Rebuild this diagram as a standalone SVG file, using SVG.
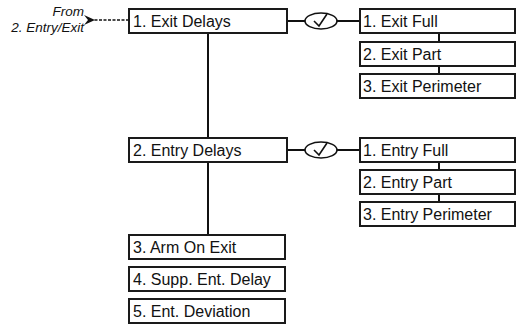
<svg xmlns="http://www.w3.org/2000/svg" width="517" height="327" viewBox="0 0 517 327">
<style>
.box{fill:#fff;stroke:#1a1a1a;stroke-width:2}
.t{font-family:"Liberation Sans",Arial,sans-serif;font-size:16px;fill:#111}
.i{font-family:"Liberation Sans",Arial,sans-serif;font-size:13.5px;font-style:italic;fill:#111;text-anchor:end}
.ln{stroke:#111;stroke-width:2;fill:none}
.ck{fill:#fff;stroke:#111;stroke-width:1.6}
</style>
<defs>
<marker id="ah" markerWidth="11" markerHeight="10" refX="1" refY="5" orient="auto" markerUnits="userSpaceOnUse">
<path d="M0,5 L11,0 L7,5 L11,10 Z" fill="#111"/>
</marker>
</defs>
<g id="connectors">
<line class="ln" x1="208" y1="33" x2="208" y2="235"/>
<line class="ln" x1="287" y1="21" x2="360" y2="21"/>
<line class="ln" x1="287" y1="150" x2="360" y2="150"/>
<line class="ln" x1="439" y1="33" x2="439" y2="74"/>
<line class="ln" x1="439" y1="162" x2="439" y2="202"/>
<line x1="129" y1="20" x2="94" y2="20" stroke="#111" stroke-width="1.5" stroke-dasharray="3,1.5" marker-end="url(#ah)"/>
<ellipse class="ck" cx="321" cy="21" rx="16" ry="8"/>
<path d="M314,21 L319,26 L327,14" fill="none" stroke="#111" stroke-width="1.6"/>
<ellipse class="ck" cx="321" cy="150" rx="16" ry="8"/>
<path d="M314,150 L319,155 L327,143" fill="none" stroke="#111" stroke-width="1.6"/>
</g>
<g id="from">
<text class="i" x="84" y="16">From</text>
<text class="i" x="84" y="32">2. Entry/Exit</text>
</g>
<g id="exit-delays"><rect class="box" x="129" y="9" width="158" height="24"/><text class="t" x="133" y="26.5">1. Exit Delays</text></g>
<g id="exit-full"><rect class="box" x="360" y="9" width="155" height="24"/><text class="t" x="363" y="26.5">1. Exit Full</text></g>
<g id="exit-part"><rect class="box" x="360" y="42" width="155" height="24"/><text class="t" x="363" y="59.5">2. Exit Part</text></g>
<g id="exit-perimeter"><rect class="box" x="360" y="74" width="155" height="24"/><text class="t" x="363" y="91.5">3. Exit Perimeter</text></g>
<g id="entry-delays"><rect class="box" x="129" y="138" width="158" height="24"/><text class="t" x="133" y="155.5">2. Entry Delays</text></g>
<g id="entry-full"><rect class="box" x="360" y="138" width="155" height="24"/><text class="t" x="363" y="155.5">1. Entry Full</text></g>
<g id="entry-part"><rect class="box" x="360" y="170" width="155" height="24"/><text class="t" x="363" y="187.5">2. Entry Part</text></g>
<g id="entry-perimeter"><rect class="box" x="360" y="202" width="155" height="24"/><text class="t" x="363" y="219.5">3. Entry Perimeter</text></g>
<g id="arm-on-exit"><rect class="box" x="129" y="235" width="156" height="24"/><text class="t" x="133" y="252.5">3. Arm On Exit</text></g>
<g id="supp-ent-delay"><rect class="box" x="129" y="267" width="156" height="24"/><text class="t" x="133" y="284.5">4. Supp. Ent. Delay</text></g>
<g id="ent-deviation"><rect class="box" x="129" y="299" width="156" height="24"/><text class="t" x="133" y="316.5">5. Ent. Deviation</text></g>
</svg>
